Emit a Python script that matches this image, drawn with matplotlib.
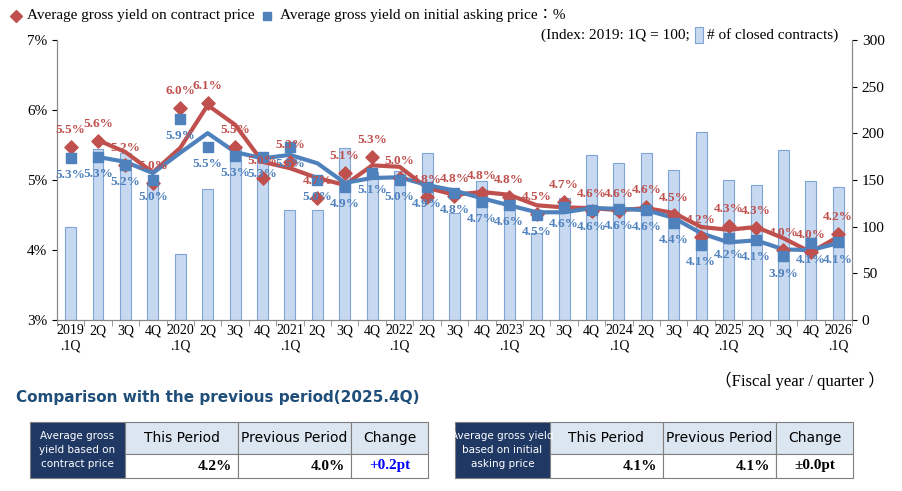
import numpy as np
import matplotlib
matplotlib.use("Agg")
import matplotlib.pyplot as plt
from matplotlib.patches import Rectangle
from matplotlib.lines import Line2D

years = ["2019", "2020", "2021", "2022", "2023", "2024", "2025", "2026"]
quarters = ["1Q", "2Q", "3Q", "4Q"]
labels = []
for y in years:
    for q in quarters:
        if y == "2026" and q != "1Q":
            continue
        labels.append(f"{y}\n.1Q" if q == "1Q" else q)

contracts_index = [100, 183, 179, 148, 71, 140, 184, 175, 118, 118, 184, 159, 160, 179, 115, 149,
                   130, 93, 131, 177, 168, 179, 161, 201, 150, 145, 182, 149, 143]
contract_yield = [5.47, 5.56, 5.22, 4.96, 6.03, 6.10, 5.47, 5.03, 5.26, 4.74, 5.10, 5.33, 5.03, 4.76, 4.77,
                  4.81, 4.76, 4.52, 4.69, 4.56, 4.56, 4.61, 4.50, 4.19, 4.34, 4.31, 4.00, 3.97, 4.23]
asking_yield = [5.31, 5.33, 5.21, 5.00, 5.87, 5.47, 5.34, 5.33, 5.47, 5.00, 4.90, 5.10, 5.00, 4.90, 4.82,
                4.69, 4.64, 4.50, 4.61, 4.57, 4.59, 4.57, 4.39, 4.07, 4.17, 4.14, 3.91, 4.10, 4.11]
contract_trend = [np.nan, 5.57, 5.40, 5.11, 5.46, 6.07, 5.79, 5.26, 5.17, 5.03, 4.93, 5.21, 5.19, 4.89, 4.79,
                  4.83, 4.79, 4.64, 4.61, 4.60, 4.57, 4.60, 4.53, 4.33, 4.29, 4.33, 4.17, 3.97, 4.19]
asking_trend = [np.nan, 5.33, 5.26, 5.10, 5.39, 5.67, 5.40, 5.31, 5.36, 5.24, 4.96, 5.03, 5.04, 4.93, 4.85,
                4.74, 4.64, 4.54, 4.54, 4.60, 4.59, 4.57, 4.46, 4.24, 4.11, 4.14, 4.01, 4.00, 4.10]

RED = "#c0504d"
BLUE = "#4f81bd"
serif = ["Liberation Serif", "DejaVu Serif"]

fig = plt.figure(figsize=(9.03, 4.91), dpi=100)
ax = fig.add_axes([0.063, 0.348, 0.8805, 0.5705])
ax2 = ax.twinx()
ax.set_zorder(2); ax.patch.set_visible(False)
x = np.arange(len(labels))

ax2.bar(x, contracts_index, width=0.4, color="#c6d9f1", edgecolor="#7fa3d3", linewidth=0.8)
ax2.set_ylim(0, 300)
ax2.set_yticks(range(0, 301, 50))

ax.plot(x, contract_trend, color=RED, lw=3, zorder=3)
ax.plot(x, asking_trend, color=BLUE, lw=3, zorder=3)
ax.scatter(x, contract_yield, marker="D", s=45, color=RED, zorder=4)
ax.scatter(x, asking_yield, marker="s", s=45, color=BLUE, zorder=4)
for i in range(len(x)):
    ax.annotate(f"{contract_yield[i]:.1f}%", (x[i], contract_yield[i]), xytext=(0, 8), textcoords="offset points",
                ha="center", va="bottom", color=RED, fontsize=9.5, fontweight="bold", family=serif, zorder=5)
    ax.annotate(f"{asking_yield[i]:.1f}%", (x[i], asking_yield[i]), xytext=(0, -8), textcoords="offset points",
                ha="center", va="top", color=BLUE, fontsize=9.5, fontweight="bold", family=serif, zorder=5)

ax.set_ylim(3, 7)
ax.set_yticks([3, 4, 5, 6, 7])
ax.set_yticklabels([f"{v}%" for v in range(3, 8)])
ax.set_xlim(-0.4, 28.5)
ax.set_xticks(x)
ax.set_xticklabels(labels)
ax.set_xticks(np.arange(-0.5, 28.6, 1), minor=True)
ax.tick_params(axis="x", which="major", length=0, pad=3)
ax.tick_params(axis="x", which="minor", length=4, color="#888888")
for a in (ax, ax2):
    for s in a.spines.values():
        s.set_color("#888888")
    a.spines["top"].set_visible(False)
    a.tick_params(labelsize=11)
    for t in a.get_yticklabels() + a.get_xticklabels():
        t.set_family(serif)
for t in ax.get_xticklabels():
    t.set_fontsize(10)

W, H = 903, 491
fig.text(690 / W, 1 - 35 / H, "(Index: 2019: 1Q = 100;", fontsize=11, family=serif, ha="right", va="center")
fig.patches.append(Rectangle((695 / W, 1 - 43 / H), 8 / W, 16 / H, transform=fig.transFigure,
                             facecolor="#c6d9f1", edgecolor="#7fa3d3", lw=0.8))
fig.text(707 / W, 1 - 35 / H, "# of closed contracts)", fontsize=11, family=serif, ha="left", va="center")

# legend
fig.add_artist(Line2D([0.018], [0.968], marker="D", color=RED, markersize=6, transform=fig.transFigure))
fig.text(0.03, 0.968, "Average gross yield on contract price", fontsize=11, family=serif, va="center")
fig.add_artist(Line2D([0.296], [0.968], marker="s", color=BLUE, markersize=6, transform=fig.transFigure))
fig.text(0.31, 0.968, "Average gross yield on initial asking price：%", fontsize=11,
         family=["Liberation Serif", "Noto Sans CJK JP"], va="center")

fig.text(0.98, 0.224, "（Fiscal year / quarter ）", fontsize=12, family=["Liberation Serif", "Noto Sans CJK JP"],
         ha="right", va="center")
fig.text(0.018, 0.19, "Comparison with the previous period(2025.4Q)", fontsize=11, fontweight="bold",
         color="#1f4e79", va="center", family="DejaVu Sans")

def rect(x0, y0, x1, y1, fc):
    fig.patches.append(Rectangle((x0 / W, 1 - y1 / H), (x1 - x0) / W, (y1 - y0) / H, transform=fig.transFigure,
                                 facecolor=fc, edgecolor="#7f7f7f", lw=0.8))
def txt(xc, yc, s, **kw):
    fig.text(xc / W, 1 - yc / H, s, ha=kw.pop("ha", "center"), va="center", **kw)

tables = [
    (30, "Average gross\nyield based on\ncontract price", ["4.2%", "4.0%", "+0.2pt"], "#0000ff"),
    (455, "Average gross yield\nbased on initial\nasking price", ["4.1%", "4.1%", "±0.0pt"], "black"),
]
for x0, title, vals, ccol in tables:
    xs = [x0, x0 + 95, x0 + 208, x0 + 321, x0 + 398]
    rect(xs[0], 422, xs[1], 478, "#1f3864")
    txt((xs[0] + xs[1]) / 2, 450, title, color="white", fontsize=7.5, linespacing=1.5)
    for j, h in enumerate(["This Period", "Previous Period", "Change"]):
        rect(xs[j + 1], 422, xs[j + 2], 454, "#dce6f1")
        txt((xs[j + 1] + xs[j + 2]) / 2, 438, h, fontsize=10)
        rect(xs[j + 1], 454, xs[j + 2], 478, "white")
        if j < 2:
            txt(xs[j + 2] - 6, 466, vals[j], ha="right", fontsize=11, fontweight="bold", family=serif)
        else:
            txt((xs[j + 1] + xs[j + 2]) / 2, 466, vals[j], fontsize=11, fontweight="bold", family=serif, color=ccol)

fig.savefig("out.png", dpi=100)
